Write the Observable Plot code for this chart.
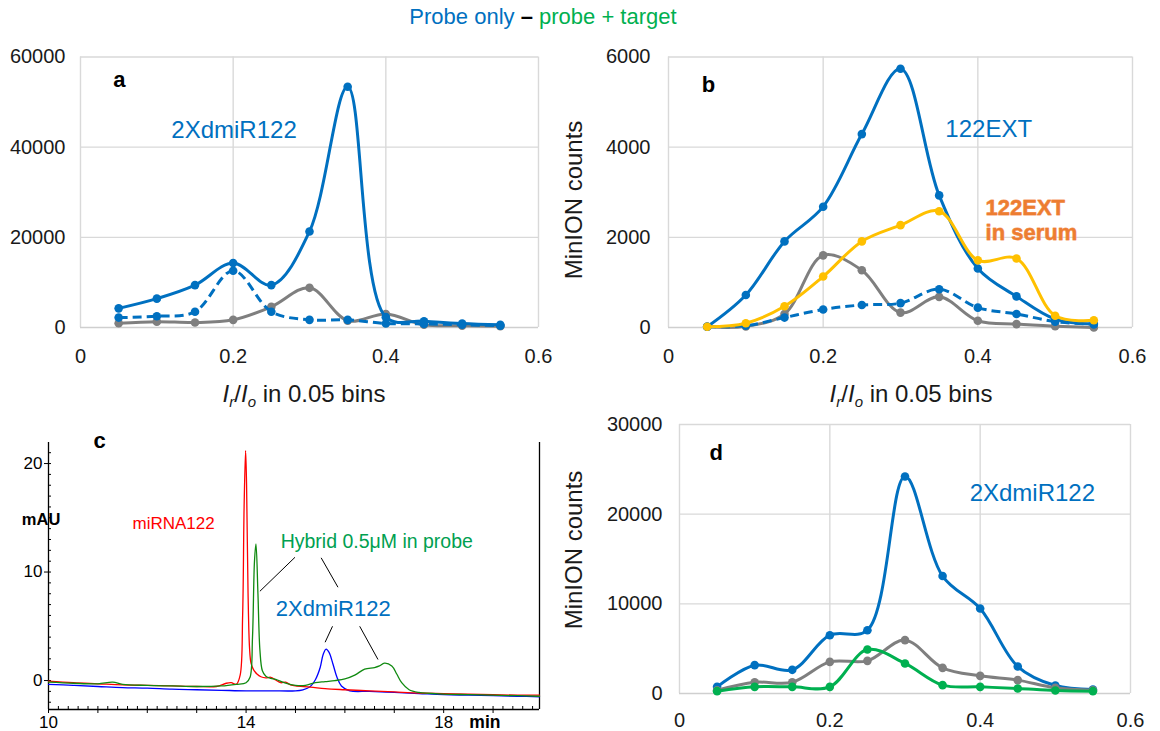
<!DOCTYPE html>
<html><head><meta charset="utf-8">
<script src="https://cdn.jsdelivr.net/npm/d3@7"></script>
<script src="https://cdn.jsdelivr.net/npm/@observablehq/plot@0.6"></script>
<style>
html,body{margin:0;padding:0;background:#fff;}
#root{position:relative;width:1160px;height:731px;overflow:hidden;font-family:"Liberation Sans",Arial,sans-serif;}
#title{position:absolute;left:0;top:4px;width:1086px;text-align:center;font-size:22px;line-height:26px;}
.panel{position:absolute;}
</style></head><body>
<div id="root"><div id="title"><span style="color:#0070c0">Probe only</span> <b>–</b> <span style="color:#00b050">probe + target</span></div></div>
<script>
// ---------- data ----------
const bins = [0.05,0.10,0.15,0.20,0.25,0.30,0.35,0.40,0.45,0.50,0.55];
const xTicks = [0, 0.2, 0.4, 0.6];
// panel a
const aProbe     = [4250,6400,9400,14300,9400,21300,53400,2300,1400,900,600];
const aProbeDash = [2200,2500,3500,12600,3500,1700,1700,900,800,600,400];
const aTarget    = [950,1300,1100,1700,4600,8800,1500,3000,600,400,300];
const aYTicks = [0,20000,40000,60000];
// panel b
const bProbe     = [15,720,1910,2680,4290,5740,2930,1310,690,185,75];
const bProbeDash = [15,40,220,400,500,540,850,440,300,130,75];
const bTarget    = [15,25,300,1600,1270,330,680,150,75,30,0];
const bSerum     = [15,95,470,1130,1910,2270,2580,1490,1530,260,160];
const bYTicks = [0,2000,4000,6000];
// panel d
const dProbe  = [740,3160,2640,6500,7060,24200,13100,9480,3010,890,450];
const dTarget = [370,1260,1260,3530,3640,5950,2860,1970,1490,630,370];
const dHybrid = [260,740,740,740,4900,3350,930,740,560,330,260];
const dYTicks = [0,10000,20000,30000];
// panel c (chromatograms, min vs mAU)
const cRedT = [10.0,10.5,11.0,11.5,12.0,12.5,13.0,13.4,13.6,13.7,13.8,13.88,13.93,13.96,13.99,14.01,14.04,14.07,14.1,14.15,14.22,14.3,14.4,14.5,14.6,14.7,14.8,14.9,15.0,15.3,15.6,16.0,16.5,17.0,17.5,18.0,18.5,19.0,19.5,19.94];
const cRedV = [-0.05,-0.2,-0.3,-0.4,-0.45,-0.5,-0.55,-0.55,-0.25,-0.2,-0.35,0.5,6,16,21.2,18,8,3,1.6,1.0,0.6,0.35,0.25,0.3,0.05,-0.2,-0.15,-0.4,-0.5,-0.6,-0.75,-0.85,-0.95,-1.05,-1.15,-1.2,-1.25,-1.3,-1.35,-1.35];
const cGreenT = [10.0,10.5,11.0,11.3,11.5,12.0,12.5,13.0,13.5,13.8,14.0,14.08,14.13,14.17,14.2,14.24,14.28,14.33,14.4,14.5,14.6,14.8,15.0,15.2,15.4,15.6,15.8,16.0,16.2,16.4,16.6,16.7,16.8,16.95,17.05,17.15,17.3,17.5,18.0,18.5,19.0,19.5,19.94];
const cGreenV = [-0.15,-0.25,-0.3,-0.15,-0.35,-0.45,-0.5,-0.55,-0.5,-0.35,-0.2,0.3,4,11,12.6,8,2.8,0.9,0.4,0.2,0.1,-0.25,-0.45,-0.45,-0.2,-0.1,0,0.15,0.5,1.05,1.2,1.35,1.6,1.35,0.6,-0.2,-0.85,-1.1,-1.25,-1.3,-1.35,-1.4,-1.45];
const cBlueT = [10.0,10.5,11.0,11.5,12.0,12.5,13.0,13.5,14.0,14.5,15.0,15.15,15.3,15.4,15.5,15.56,15.62,15.68,15.76,15.84,15.93,16.1,16.5,17.0,17.5,18.0,18.5,19.0,19.5,19.94];
const cBlueV = [-0.35,-0.45,-0.55,-0.65,-0.7,-0.8,-0.85,-0.9,-0.95,-0.95,-0.95,-0.85,-0.55,0.05,1.2,2.4,2.9,2.6,1.5,0.3,-0.5,-0.95,-1.0,-1.1,-1.2,-1.3,-1.35,-1.4,-1.45,-1.5];
const cYTicks = [0,10,20];
const cYMinor = d3.range(-2, 22, 1);
const cXLabels = [10,14,18];
const cXMajor = d3.range(10, 20, 1);
const cXMinor = d3.range(10, 19.95, 0.2);
const cLinks = [
  {t1:14.99, v1:11.36, t2:14.28, v2:8.23},
  {t1:15.52, v1:11.31, t2:15.86, v2:8.6},
  {t1:15.75, v1:5.0,  t2:15.60, v2:3.53},
  {t1:16.30, v1:5.0,  t2:16.67, v2:1.94}
];

// ---------- helpers ----------
const FONT = '"Liberation Sans", Arial, sans-serif';
const BLUE = "#0070c0", GRAY = "#7f7f7f", YELLOW = "#ffc000", GREEN = "#00b050", ORANGE = "#ed7d31", GRID = "#d9d9d9";
const root = document.getElementById("root");
const rows = arr => bins.map((x, i) => ({x, y: arr[i]}));

function place(svg, left, top) {
  const div = document.createElement("div");
  div.className = "panel";
  div.style.left = left + "px"; div.style.top = top + "px";
  div.appendChild(svg); root.appendChild(div);
  return svg;
}

function seriesMarks(arr, color, dashed) {
  const data = rows(arr);
  return [
    Plot.line(data, {x: "x", y: "y", curve: "catmull-rom", stroke: color, strokeWidth: 3,
      strokeDasharray: dashed ? "9,5" : null, strokeLinecap: "butt"}),
    Plot.dot(data, {x: "x", y: "y", r: 4.3, fill: color, stroke: null})
  ];
}

function countPanel({left, top, width, height, ml, mr, mt, mb, yTicks, series, extra, xPad, yPad}) {
  const svg = Plot.plot({
    width, height, marginLeft: ml, marginRight: mr, marginTop: mt, marginBottom: mb,
    x: {domain: [0, 0.6]}, y: {domain: [0, yTicks[yTicks.length - 1]]},
    style: {fontFamily: FONT, color: "#1a1a1a", background: "transparent", overflow: "visible"},
    marks: [
      Plot.gridY(yTicks.slice(1), {stroke: GRID, strokeOpacity: 1, strokeWidth: 1.4}),
      Plot.gridX(xTicks.slice(1), {stroke: GRID, strokeOpacity: 1, strokeWidth: 1.4}),
      Plot.ruleX([0], {stroke: GRID, strokeWidth: 1.4}),
      Plot.ruleY([0], {stroke: "#cfcfcf", strokeWidth: 1.4}),
      Plot.axisX(xTicks, {tickSize: 0, tickPadding: xPad, fontSize: 20, tickFormat: d => String(d), label: null}),
      Plot.axisY(yTicks, {tickSize: 0, tickPadding: yPad, fontSize: 20, tickFormat: d => String(d), label: null}),
      ...series.flatMap(s => seriesMarks(s.data, s.color, s.dashed)),
      ...extra
    ]
  });
  return place(svg, left, top);
}

function xTitle(svg, cx, baseline) {
  const t = d3.select(svg).append("text").attr("x", cx).attr("y", baseline)
    .attr("text-anchor", "middle").attr("font-size", 24).attr("fill", "#1a1a1a").style("font-family", FONT);
  t.append("tspan").attr("font-style", "italic").text("I");
  t.append("tspan").attr("font-style", "italic").attr("font-size", 15).attr("dy", 5).text("r");
  t.append("tspan").attr("dy", -5).text("/");
  t.append("tspan").attr("font-style", "italic").text("I");
  t.append("tspan").attr("font-style", "italic").attr("font-size", 15).attr("dy", 5).text("o");
  t.append("tspan").attr("dy", -5).text(" in 0.05 bins");
}
function yTitle(svg, cx, cy) {
  d3.select(svg).append("text").attr("transform", `translate(${cx},${cy}) rotate(-90)`)
    .attr("text-anchor", "middle").attr("dy", "0.36em").attr("font-size", 24).attr("fill", "#1a1a1a")
    .style("font-family", FONT).text("MinION counts");
}

const label = (x, y, text, opts) => Plot.text([{x, y, text}], {x: "x", y: "y", text: "text", textAnchor: "start", lineAnchor: "bottom", fontFamily: FONT, ...opts});

// ---------- panel a ----------
const svgA = countPanel({left: 0, top: 40, width: 555, height: 380, ml: 80, mr: 17, mt: 16.5, mb: 93,
  yTicks: aYTicks, xPad: 21, yPad: 15,
  series: [{data: aTarget, color: GRAY}, {data: aProbeDash, color: BLUE, dashed: true}, {data: aProbe, color: BLUE}],
  extra: [
    label(0.043, 53300, "a", {fontSize: 22, fontWeight: "bold", fill: "#000"}),
    label(0.119, 42000, "2XdmiR122", {fontSize: 24, fill: BLUE})
  ]});
xTitle(svgA, 304, 362);

// ---------- panel b ----------
const svgB = countPanel({left: 555, top: 40, width: 605, height: 380, ml: 113, mr: 28, mt: 16.5, mb: 93,
  yTicks: bYTicks, xPad: 21, yPad: 18,
  series: [{data: bTarget, color: GRAY}, {data: bProbeDash, color: BLUE, dashed: true}, {data: bProbe, color: BLUE}, {data: bSerum, color: YELLOW}],
  extra: [
    label(0.043, 5220, "b", {fontSize: 22, fontWeight: "bold", fill: "#000"}),
    label(0.358, 4220, "122EXT", {fontSize: 24, fill: BLUE}),
    label(0.41, 1930, "122EXT\nin serum", {fontSize: 22, fontWeight: "bold", fill: ORANGE, stroke: "#f5a06a", strokeWidth: 0.8, lineHeight: 1.14})
  ]});
xTitle(svgB, 356, 362);
yTitle(svgB, 18, 160);

// ---------- panel d ----------
const svgD = countPanel({left: 555, top: 410, width: 605, height: 321, ml: 124, mr: 30, mt: 14, mb: 38,
  yTicks: dYTicks, xPad: 19, yPad: 17,
  series: [{data: dProbe, color: BLUE}, {data: dTarget, color: GRAY}, {data: dHybrid, color: GREEN}],
  extra: [
    label(0.04, 26000, "d", {fontSize: 22, fontWeight: "bold", fill: "#000"}),
    label(0.386, 21500, "2XdmiR122", {fontSize: 24, fill: BLUE})
  ]});
yTitle(svgD, 18, 140);

// ---------- panel c ----------
const trace = (T, V) => T.map((t, i) => ({t, v: V[i]}));
const cLine = (T, V, color) => Plot.line(trace(T, V), {x: "t", y: "v", curve: "catmull-rom", stroke: color, strokeWidth: 1.3});
const cLabel = (x, y, text, opts) => Plot.text([{x, y, text}], {x: "x", y: "y", text: "text", textAnchor: "start", lineAnchor: "bottom", fontFamily: FONT, ...opts});
const svgC = Plot.plot({
  width: 555, height: 311, marginLeft: 48, marginRight: 16, marginTop: 22, marginBottom: 22,
  x: {domain: [10, 19.94]}, y: {domain: [-2.67, 21.94]},
  style: {fontFamily: FONT, color: "#000", background: "transparent", overflow: "visible"},
  marks: [
    Plot.ruleX([10, 19.94], {stroke: "#000", strokeWidth: 1.3}),
    Plot.ruleY([-2.67], {stroke: "#000", strokeWidth: 1.3}),
    Plot.axisY(cYMinor, {tickSize: 3, dx: 3, fill: "none", label: null}),
    Plot.axisY(cYTicks, {tickSize: 4, tickPadding: 2, fontSize: 17, tickFormat: d => String(d), label: null}),
    Plot.axisX(cXMinor, {tickSize: 3, dy: -3, fill: "none", label: null}),
    Plot.axisX(cXMajor, {tickSize: 4, fill: "none", label: null}),
    Plot.axisX(cXLabels, {tickSize: 0, tickPadding: 6, fontSize: 17, tickFormat: d => String(d), label: null}),
    cLine(cBlueT, cBlueV, "#0000ff"),
    cLine(cRedT, cRedV, "#ff0000"),
    cLine(cGreenT, cGreenV, "#108a10"),
    Plot.link(cLinks, {x1: "t1", y1: "v1", x2: "t2", y2: "v2", stroke: "#000", strokeWidth: 1}),
    cLabel(10.91, 21.47, "c", {fontSize: 22, fontWeight: "bold", fill: "#000"}),
    cLabel(9.46, 14.29, "mAU", {fontSize: 16.5, fontWeight: "bold", fill: "#000"}),
    cLabel(11.70, 14.0, "miRNA122", {fontSize: 17, fill: "#ff0000"}),
    cLabel(14.70, 12.17, "Hybrid 0.5μM in probe", {fontSize: 19.5, fill: "#00a050"}),
    cLabel(14.60, 5.99, "2XdmiR122", {fontSize: 22, fill: BLUE}),
    cLabel(18.52, -4.33, "min", {fontSize: 17.5, fontWeight: "bold", fill: "#000"})
  ]
});
place(svgC, 0, 420);
</script>
</body></html>
